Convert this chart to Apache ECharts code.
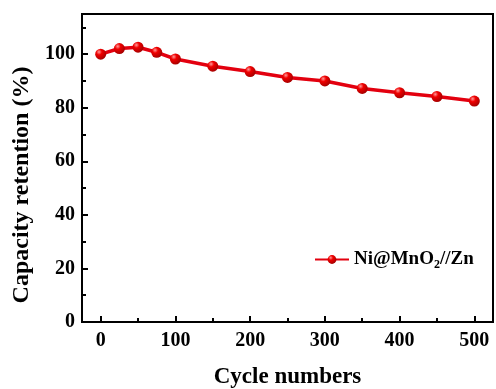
<!DOCTYPE html>
<html>
<head>
<meta charset="utf-8">
<script src="https://cdn.jsdelivr.net/npm/echarts@6/dist/echarts.min.js"></script>
<style>
  html, body { margin: 0; padding: 0; background: #fff; }
  #chart { width: 496px; height: 389px; }
</style>
</head>
<body>
<div id="chart"></div>
<script>
// cycle number and capacity retention
const cycles = [0, 25, 50, 75, 100, 150, 200, 250, 300, 350, 400, 450, 500]
const retention = [100, 102.1, 102.6, 100.7, 98.2, 95.5, 93.5, 91.3, 90.0, 87.2, 85.6, 84.2, 82.5]

const xMajor = [0, 100, 200, 300, 400, 500]
const xMinor = [50, 150, 250, 350, 450]
const yMajor = [0, 20, 40, 60, 80, 100]
const yMinor = [10, 30, 50, 70, 90, 110]

const seriesName = 'Ni@MnO2//Zn'

const FONT = '"Liberation Serif", "Times New Roman", serif'
const RED = '#e3000f'

const chart = echarts.init(document.getElementById('chart'))

const labelStyle = { fontFamily: FONT, fontWeight: 'bold', fontSize: 20, color: '#000' }

const option = {
  animation: false,
  grid: {
    left: 82, right: 3, top: 14, bottom: 67,
    outerBoundsMode: 'none', containLabel: false,
    show: true, borderColor: '#000', borderWidth: 2
  },
  legend: {
    data: [seriesName],
    left: 309, top: 245,
    itemWidth: 34, itemHeight: 11, itemGap: 4,
    formatter: () => '{a|Ni@MnO}{s|2}{a|//Zn}',
    textStyle: {
      rich: {
        a: { fontFamily: FONT, fontWeight: 'bold', fontSize: 19, color: '#000' },
        s: { fontFamily: FONT, fontWeight: 'bold', fontSize: 12, color: '#000', padding: [10, 0, 0, 0] }
      }
    }
  },
  xAxis: [
    {
      type: 'value', min: -25, max: 525,
      name: 'Cycle numbers', nameLocation: 'middle', nameGap: 44,
      nameTextStyle: { fontFamily: FONT, fontWeight: 'bold', fontSize: 23, color: '#000' },
      splitLine: { show: false },
      axisLine: { onZero: false, lineStyle: { color: '#000', width: 2 } },
      axisTick: { inside: true, length: 6, lineStyle: { color: '#000', width: 2 }, customValues: xMajor },
      axisLabel: Object.assign({ margin: 9, customValues: xMajor }, labelStyle)
    },
    {
      type: 'value', min: -25, max: 525, position: 'bottom',
      splitLine: { show: false },
      axisLine: { show: false, onZero: false },
      axisTick: { inside: true, length: 4, lineStyle: { color: '#000', width: 2 }, customValues: xMinor },
      axisLabel: { show: false }
    }
  ],
  yAxis: [
    {
      type: 'value', min: 0, max: 115,
      name: 'Capacity retention (%)', nameLocation: 'middle', nameGap: 46,
      nameTextStyle: { fontFamily: FONT, fontWeight: 'bold', fontSize: 24, color: '#000', padding: [0, 34, 0, 0] },
      splitLine: { show: false },
      axisLine: { onZero: false, lineStyle: { color: '#000', width: 2 } },
      axisTick: { inside: true, length: 6, lineStyle: { color: '#000', width: 2 }, customValues: yMajor },
      axisLabel: Object.assign({ margin: 7, customValues: yMajor }, labelStyle)
    },
    {
      type: 'value', min: 0, max: 115, position: 'left',
      splitLine: { show: false },
      axisLine: { show: false, onZero: false },
      axisTick: { inside: true, length: 4, lineStyle: { color: '#000', width: 2 }, customValues: yMinor },
      axisLabel: { show: false }
    }
  ],
  series: [
    {
      name: seriesName,
      type: 'line',
      data: cycles.map((c, i) => [c, retention[i]]),
      symbol: 'circle',
      symbolSize: 11,
      lineStyle: { color: RED, width: 3.5 },
      itemStyle: {
        color: new echarts.graphic.RadialGradient(0.35, 0.3, 0.75, [
          { offset: 0, color: '#ff9a9a' },
          { offset: 0.35, color: '#f00000' },
          { offset: 1, color: '#a00000' }
        ]),
        borderWidth: 0
      }
    }
  ]
}

chart.setOption(option)
window.addEventListener('resize', () => chart.resize())
</script>
</body>
</html>
